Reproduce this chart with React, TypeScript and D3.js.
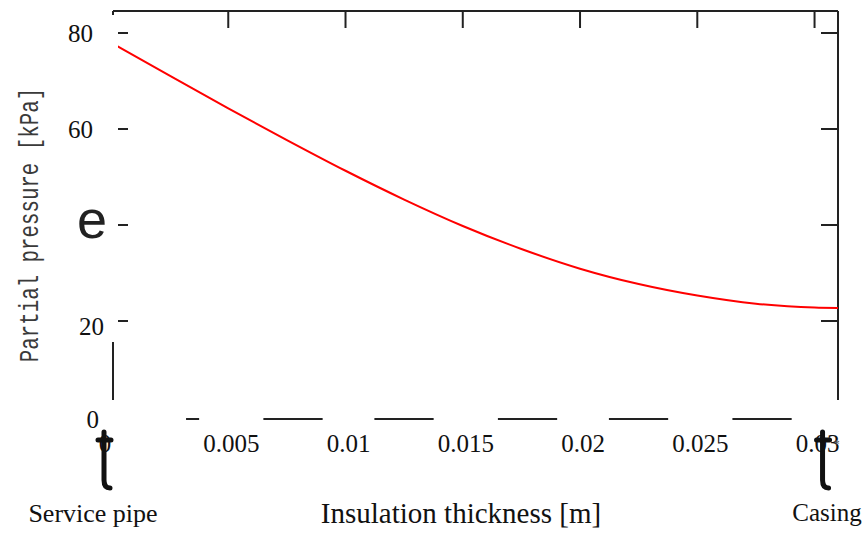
import * as d3 from "d3";

const WIDTH = 866;
const HEIGHT = 534;

// insulation thickness [m] and partial pressure [kPa]
const thickness = [0, 0.0025, 0.005, 0.0075, 0.01, 0.0125, 0.015, 0.0175, 0.02, 0.0225, 0.025, 0.0275, 0.03, 0.031];
const pressure = [78.0, 71.1, 64.3, 57.7, 51.3, 45.3, 39.8, 35.0, 30.9, 27.7, 25.3, 23.6, 22.8, 22.7];

const xTicks = [0, 0.005, 0.01, 0.015, 0.02, 0.025, 0.03];
const xTickLabels = ["0", "0.005", "0.01", "0.015", "0.02", "0.025", "0.03"];
const yTicks = [0, 20, 40, 60, 80];
const yTickLabels = ["0", "20", "e", "60", "80"];

const xTitle = "Insulation thickness [m]";
const yTitle = "Partial pressure [kPa]";
const leftNote = "Service pipe";
const rightNote = "Casing";

const SERIF = "'Liberation Serif', 'Times New Roman', serif";
const INK = "#222";

export default function App() {
  const xScale = d3.scaleLinear().domain([0, 0.031]).range([111, 838]);
  const yScale = d3.scaleLinear().domain([0, 80]).range([417, 33]);

  const frameLeft = 113;
  const frameRight = xScale(0.031);
  const frameTop = 11;
  const frameBottom = 400;
  const axisY = yScale(0) + 2;

  const line = d3
    .line<number>()
    .x((d) => xScale(d))
    .y((_, i) => yScale(pressure[i]))
    .curve(d3.curveMonotoneX);

  // white boxes behind the x tick labels cut the bottom axis into pieces
  const labelBox = (s: string) =>
    [...s].reduce((a, c) => a + (c === "." ? 6.25 : 12.5), 0) + 8;

  return (
    <svg
      width={WIDTH}
      height={HEIGHT}
      style={{ position: "absolute", left: 0, top: 0, background: "#fff" }}
    >
      {/* frame */}
      <line x1={frameLeft} x2={frameRight} y1={frameTop} y2={frameTop} stroke={INK} strokeWidth={2} />
      <line x1={frameLeft} x2={frameLeft} y1={frameTop} y2={frameBottom} stroke={INK} strokeWidth={2} />
      <line x1={frameRight} x2={frameRight} y1={frameTop} y2={frameBottom} stroke={INK} strokeWidth={2} />

      {/* top ticks */}
      {xTicks.slice(1).map((t) => (
        <line key={"tt" + t} x1={xScale(t)} x2={xScale(t)} y1={frameTop} y2={frameTop + 17} stroke={INK} strokeWidth={2} />
      ))}
      {/* right ticks */}
      {yTicks.slice(1).map((t) => (
        <line key={"rt" + t} x1={frameRight - 17} x2={frameRight} y1={yScale(t)} y2={yScale(t)} stroke={INK} strokeWidth={2} />
      ))}
      {/* left ticks */}
      {yTicks.slice(1).map((t) => (
        <line key={"lt" + t} x1={frameLeft} x2={frameLeft + 15} y1={yScale(t)} y2={yScale(t)} stroke={INK} strokeWidth={2} />
      ))}

      <path d={line(thickness) ?? ""} fill="none" stroke="#ff0000" strokeWidth={2} />

      {/* white patch over the left side */}
      <rect x={0} y={frameTop + 4} width={118} height={342 - frameTop - 4} fill="#fff" />

      {/* bottom axis */}
      <line x1={frameLeft} x2={frameRight} y1={axisY} y2={axisY} stroke={INK} strokeWidth={2} />
      <rect x={xScale(0) - 20} y={axisY - 12} width={xScale(0.0032) - xScale(0) + 20} height={40} fill="#fff" />
      {xTicks.slice(1).map((t, i) => {
        const w = labelBox(xTickLabels[i + 1]);
        return <rect key={"xb" + t} x={xScale(t) + 3 - w / 2} y={axisY - 12} width={w} height={40} fill="#fff" />;
      })}

      {/* x tick labels */}
      {xTicks.map((t, i) => (
        <text
          key={"xl" + t}
          x={xScale(t) + (i === 0 ? -6 : 3)}
          y={452}
          textAnchor="middle"
          fontFamily={SERIF}
          fontSize={25}
          fill="#111"
        >
          {xTickLabels[i]}
        </text>
      ))}
      <text x={xScale(0.03) + 22} y={448} textAnchor="middle" fontFamily={SERIF} fontSize={13} fill="#555">
        *
      </text>

      {/* y tick labels */}
      {yTicks.map((t, i) => {
        const label = yTickLabels[i];
        if (label === "e") {
          return (
            <text
              key={"yl" + t}
              x={92}
              y={yScale(t) + 13}
              textAnchor="middle"
              fontFamily="'Liberation Sans', Arial, sans-serif"
              fontWeight={300}
              fontSize={54}
              fill="#222"
            >
              {label}
            </text>
          );
        }
        const dx = t === 20 ? 11 : t === 0 ? 6 : 0;
        const dy = t === 20 ? 14 : t === 0 ? 11 : 9;
        return (
          <text
            key={"yl" + t}
            x={93 + dx}
            y={yScale(t) + dy}
            textAnchor="end"
            fontFamily={SERIF}
            fontSize={25}
            fill="#111"
          >
            {label}
          </text>
        );
      })}

      {/* y title */}
      <text
        transform={`translate(38,${225}) rotate(-90) scale(0.945,1.27)`}
        textAnchor="middle"
        fontFamily="'Liberation Mono', 'DejaVu Sans Mono', monospace"
        fontSize={22}
        fill="#3a3a3a"
      >
        {yTitle}
      </text>

      {/* end markers */}
      {[xScale(0) - 7, xScale(0.03) + 8].map((x, i) => (
        <path
          key={"mk" + i}
          d={`M${x - 6},${440} L${x + 7},${440} M${x},${432} L${x},${480} Q${x},${488} ${x + 6},${488}`}
          fill="none"
          stroke="#111"
          strokeWidth={5}
          strokeLinecap="round"
        />
      ))}

      {/* notes and title */}
      <text x={93} y={522} textAnchor="middle" fontFamily={SERIF} fontSize={26} fill="#111">
        {leftNote}
      </text>
      <text x={827} y={521} textAnchor="middle" fontFamily={SERIF} fontSize={25} fill="#111">
        {rightNote}
      </text>
      <text x={461} y={523} textAnchor="middle" fontFamily={SERIF} fontSize={29} fill="#111">
        {xTitle}
      </text>
    </svg>
  );
}
